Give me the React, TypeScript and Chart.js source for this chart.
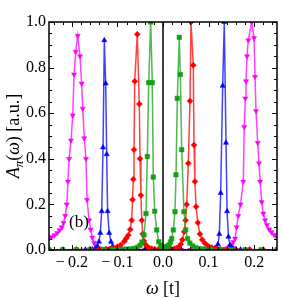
import React, { useEffect, useRef } from "react";
import { Chart, registerables } from "chart.js";
Chart.register(...registerables);

// ---- data ----
const magentaOmega = [-0.25, -0.244, -0.238, -0.232, -0.227, -0.222, -0.218, -0.2145, -0.211, -0.2085, -0.206, -0.2018, -0.198, -0.195, -0.1915, -0.187, -0.182, -0.1785, -0.176, -0.1726, -0.169, -0.1665, -0.162, -0.1586, -0.155, -0.151, -0.147, -0.143, -0.138, -0.132, -0.125, -0.115, -0.1, -0.08, -0.06, -0.04, -0.02, 0, 0.02, 0.04, 0.06, 0.08, 0.1, 0.115, 0.125, 0.132, 0.138, 0.143, 0.147, 0.1506, 0.154, 0.158, 0.1616, 0.165, 0.17, 0.176, 0.1783, 0.1805, 0.182, 0.1842, 0.187, 0.1945, 0.1996, 0.2018, 0.204, 0.2077, 0.2105, 0.213, 0.2164, 0.22, 0.224, 0.228, 0.233, 0.238, 0.244, 0.25];
const magentaA = [0.05, 0.057, 0.065, 0.075, 0.087, 0.1, 0.12, 0.15, 0.2, 0.3, 0.4, 0.48, 0.59, 0.77, 0.87, 0.94, 0.85, 0.73, 0.62, 0.49, 0.4, 0.22, 0.13, 0.09, 0.055, 0.032, 0.018, 0.011, 0.006, 0.004, 0.003, 0.002, 0.001, 0.001, 0.001, 0.0, 0.0, 0.0, 0.0, 0.0, 0.001, 0.001, 0.001, 0.002, 0.003, 0.004, 0.006, 0.01, 0.016, 0.022, 0.035, 0.05, 0.1, 0.15, 0.2, 0.3, 0.54, 0.665, 0.74, 0.85, 0.92, 1.0, 0.93, 0.76, 0.61, 0.47, 0.38, 0.3, 0.21, 0.16, 0.13, 0.11, 0.09, 0.078, 0.066, 0.056];

const blueOmega = [-0.25, -0.22, -0.19, -0.17, -0.16, -0.155, -0.149, -0.144, -0.1404, -0.1375, -0.1344, -0.1315, -0.1287, -0.1257, -0.1235, -0.1215, -0.118, -0.114, -0.11, -0.105, -0.099, -0.09, -0.07, -0.04, 0, 0.04, 0.07, 0.09, 0.1, 0.108, 0.113, 0.117, 0.1205, 0.1235, 0.1265, 0.1309, 0.1344, 0.1382, 0.1405, 0.1435, 0.147, 0.1505, 0.155, 0.16, 0.17, 0.19, 0.22, 0.25];
const blueA = [0.001, 0.001, 0.001, 0.002, 0.002, 0.003, 0.006, 0.015, 0.036, 0.075, 0.17, 0.45, 0.92, 0.73, 0.42, 0.17, 0.075, 0.036, 0.015, 0.006, 0.003, 0.002, 0.001, 0.001, 0.001, 0.001, 0.001, 0.002, 0.003, 0.004, 0.007, 0.012, 0.025, 0.07, 0.25, 0.72, 1.0, 0.47, 0.17, 0.058, 0.022, 0.01, 0.005, 0.003, 0.002, 0.001, 0.001, 0.001];

const redOmega = [-0.25, -0.22, -0.19, -0.16, -0.14, -0.125, -0.116, -0.108, -0.1, -0.0928, -0.0849, -0.081, -0.0761, -0.072, -0.0686, -0.0668, -0.0651, -0.0636, -0.062, -0.0564, -0.052, -0.0504, -0.0485, -0.0465, -0.0445, -0.042, -0.039, -0.035, -0.03, -0.025, -0.018, -0.01, 0, 0.01, 0.018, 0.025, 0.03, 0.035, 0.039, 0.0425, 0.0465, 0.0495, 0.052, 0.0555, 0.0592, 0.0614, 0.0664, 0.068, 0.07, 0.0725, 0.0765, 0.081, 0.086, 0.092, 0.099, 0.107, 0.115, 0.125, 0.14, 0.16, 0.19, 0.22, 0.25];
const redA = [0.001, 0.001, 0.002, 0.002, 0.003, 0.004, 0.006, 0.009, 0.014, 0.022, 0.038, 0.05, 0.065, 0.09, 0.13, 0.22, 0.31, 0.44, 0.74, 0.946, 0.64, 0.4, 0.24, 0.13, 0.07, 0.04, 0.025, 0.015, 0.009, 0.006, 0.004, 0.003, 0.003, 0.003, 0.004, 0.006, 0.009, 0.014, 0.025, 0.045, 0.08, 0.13, 0.2, 0.38, 0.653, 1.0, 0.81, 0.46, 0.3, 0.19, 0.12, 0.07, 0.045, 0.03, 0.018, 0.011, 0.007, 0.004, 0.003, 0.002, 0.002, 0.001, 0.001];

const greenOmega = [-0.25, -0.22, -0.19, -0.16, -0.13, -0.11, -0.095, -0.082, -0.072, -0.063, -0.056, -0.0504, -0.046, -0.0417, -0.0373, -0.0344, -0.0314, -0.027, -0.0235, -0.0213, -0.0182, -0.0138, -0.0094, -0.005, -0.0015, 0.001, 0.005, 0.009, 0.0132, 0.0165, 0.019, 0.0226, 0.0263, 0.0285, 0.0314, 0.0357, 0.038, 0.041, 0.046, 0.0498, 0.054, 0.059, 0.065, 0.072, 0.08, 0.09, 0.105, 0.125, 0.15, 0.18, 0.215, 0.25];
const greenA = [0.001, 0.001, 0.001, 0.002, 0.002, 0.003, 0.003, 0.004, 0.005, 0.007, 0.012, 0.02, 0.035, 0.066, 0.16, 0.41, 0.734, 1.0, 0.734, 0.32, 0.17, 0.088, 0.036, 0.02, 0.014, 0.01, 0.012, 0.016, 0.022, 0.035, 0.05, 0.088, 0.168, 0.33, 0.665, 0.933, 0.77, 0.44, 0.168, 0.088, 0.05, 0.03, 0.018, 0.01, 0.006, 0.004, 0.003, 0.002, 0.002, 0.001, 0.001, 0.001];

const zeroLineOmega = [0, 0];
const zeroLineA = [0, 1];

const xTickValues = [-0.2, -0.1, 0, 0.1, 0.2];
const xTickLabels = ["\u2212\u20090.2", "\u2212\u20090.1", "0.0", "0.1", "0.2"];
const yTickValues = [0, 0.2, 0.4, 0.6, 0.8, 1.0];
const yTickLabels = ["0.0", "0.2", "0.4", "0.6", "0.8", "1.0"];

const SERIF = "'Liberation Serif', 'DejaVu Serif', serif";

function pts(xs: number[], ys: number[]) {
  return xs.map((x, i) => ({ x, y: ys[i] }));
}

const decorPlugin = {
  id: "decor",
  afterDatasetsDraw(chart: any) {
    const { ctx, chartArea } = chart;
    const { left, right, top, bottom } = chartArea;
    const xs = chart.scales.x;
    const ys = chart.scales.y;
    ctx.save();
    ctx.strokeStyle = "#000";
    ctx.lineWidth = 1;
    ctx.beginPath();
    // x ticks (major every 0.1, minor every 0.02)
    for (let k = -12; k <= 12; k++) {
      const v = k * 0.02;
      const px = Math.round(xs.getPixelForValue(v)) + 0.5;
      const len = k % 5 === 0 ? 5 : 3;
      ctx.moveTo(px, bottom);
      ctx.lineTo(px, bottom - len);
      ctx.moveTo(px, top);
      ctx.lineTo(px, top + len);
    }
    // y ticks (major every 0.2, minor every 0.05)
    for (let k = 0; k <= 20; k++) {
      const v = k * 0.05;
      const py = Math.round(ys.getPixelForValue(v)) + 0.5;
      const len = k % 4 === 0 ? 5 : 3;
      ctx.moveTo(left, py);
      ctx.lineTo(left + len, py);
      ctx.moveTo(right, py);
      ctx.lineTo(right - len, py);
    }
    ctx.stroke();
    ctx.lineWidth = 1.5;
    ctx.strokeRect(left, top, right - left, bottom - top);
    ctx.restore();
  },
  afterDraw(chart: any) {
    const { ctx, chartArea } = chart;
    const { left, right, top, bottom } = chartArea;
    ctx.save();
    ctx.fillStyle = "#000";
    ctx.textBaseline = "alphabetic";
    // x title: ω [t]
    const xf = 18;
    const segX = [
      { t: "\u03c9", f: `italic ${xf}px ${SERIF}` },
      { t: " [t]", f: `${xf}px ${SERIF}` },
    ];
    let w = 0;
    segX.forEach((s) => { ctx.font = s.f; w += ctx.measureText(s.t).width; });
    let cx = (left + right) / 2 - w / 2;
    segX.forEach((s) => { ctx.font = s.f; ctx.fillText(s.t, cx, 294); cx += ctx.measureText(s.t).width; });

    // y title: A_π(ω) [a.u.]
    const yf = 18;
    const segY = [
      { t: "A", f: `italic ${yf}px ${SERIF}`, dy: 0 },
      { t: "\u03c0", f: `italic ${Math.round(yf * 0.7)}px ${SERIF}`, dy: 4 },
      { t: "(", f: `${yf}px ${SERIF}`, dy: 0 },
      { t: "\u03c9", f: `italic ${yf}px ${SERIF}`, dy: 0 },
      { t: ") [a.u.]", f: `${yf}px ${SERIF}`, dy: 0 },
    ];
    w = 0;
    segY.forEach((s) => { ctx.font = s.f; w += ctx.measureText(s.t).width; });
    ctx.translate(19, (top + bottom) / 2);
    ctx.rotate(-Math.PI / 2);
    cx = -w / 2;
    segY.forEach((s) => { ctx.font = s.f; ctx.fillText(s.t, cx, s.dy); cx += ctx.measureText(s.t).width; });
    ctx.restore();

    // panel label
    ctx.save();
    ctx.fillStyle = "#000";
    ctx.font = `17px ${SERIF}`;
    ctx.textAlign = "center";
    ctx.textBaseline = "middle";
    ctx.fillText("(b)", 79, 223);
    ctx.restore();
  },
};

export default function App() {
  const ref = useRef<HTMLCanvasElement | null>(null);
  useEffect(() => {
    if (!ref.current) return;
    document.body.style.margin = "0";
    const mk = (label: string, xs: number[], ys: number[], color: string, line: string, style: string, rot: number, r: number, order: number) => ({
      label,
      data: pts(xs, ys),
      showLine: true,
      borderColor: line,
      borderWidth: 1.5,
      pointStyle: style,
      pointRotation: rot,
      pointRadius: r,
      pointBackgroundColor: color,
      pointBorderColor: color,
      pointBorderWidth: 0.5,
      order,
      clip: 0,
      tension: 0,
    });
    const chart = new Chart(ref.current, {
      type: "scatter",
      data: {
        datasets: [
          { label: "zero", data: pts(zeroLineOmega, zeroLineA), showLine: true, borderColor: "#000", borderWidth: 1.5, pointRadius: 0, order: 0, clip: 0 } as any,
          mk("green", greenOmega, greenA, "rgb(20,160,20)", "rgba(20,160,20,0.75)", "rect", 0, 3.2, 1),
          mk("red", redOmega, redA, "rgb(255,0,0)", "rgba(255,0,0,0.75)", "rectRot", 0, 3, 2),
          mk("blue", blueOmega, blueA, "rgb(0,0,255)", "rgba(0,0,255,0.75)", "triangle", 0, 3, 3),
          mk("magenta", magentaOmega, magentaA, "rgb(255,0,255)", "rgba(255,0,255,0.75)", "triangle", 180, 3, 4),
        ],
      },
      options: {
        animation: false,
        responsive: false,
        devicePixelRatio: 1,
        layout: { padding: { top: 22, right: 6, left: 0, bottom: 0 } },
        plugins: { legend: { display: false }, tooltip: { enabled: false } },
        scales: {
          x: {
            type: "linear",
            min: -0.25,
            max: 0.25,
            grid: { display: false, drawTicks: false },
            border: { display: false },
            afterBuildTicks: (s: any) => { s.ticks = xTickValues.map((v) => ({ value: v })); },
            afterFit: (s: any) => { s.height = 49; },
            ticks: {
              autoSkip: false,
              maxRotation: 0,
              padding: 3,
              color: "#000",
              font: { family: SERIF, size: 16 },
              callback: (_v: any, i: number) => xTickLabels[i],
            },
          },
          y: {
            type: "linear",
            min: 0,
            max: 1,
            grid: { display: false, drawTicks: false },
            border: { display: false },
            afterBuildTicks: (s: any) => { s.ticks = yTickValues.map((v) => ({ value: v })); },
            afterFit: (s: any) => { s.width = 49; },
            ticks: {
              autoSkip: false,
              padding: 3,
              color: "#000",
              font: { family: SERIF, size: 16 },
              callback: (_v: any, i: number) => yTickLabels[i],
            },
          },
        },
      },
      plugins: [decorPlugin as any],
    });
    return () => chart.destroy();
  }, []);
  return (
    <div style={{ position: "fixed", left: 0, top: 0, width: 283, height: 299, background: "#fff" }}>
      <canvas ref={ref} width={283} height={299} style={{ display: "block", width: 283, height: 299 }} />
    </div>
  );
}
